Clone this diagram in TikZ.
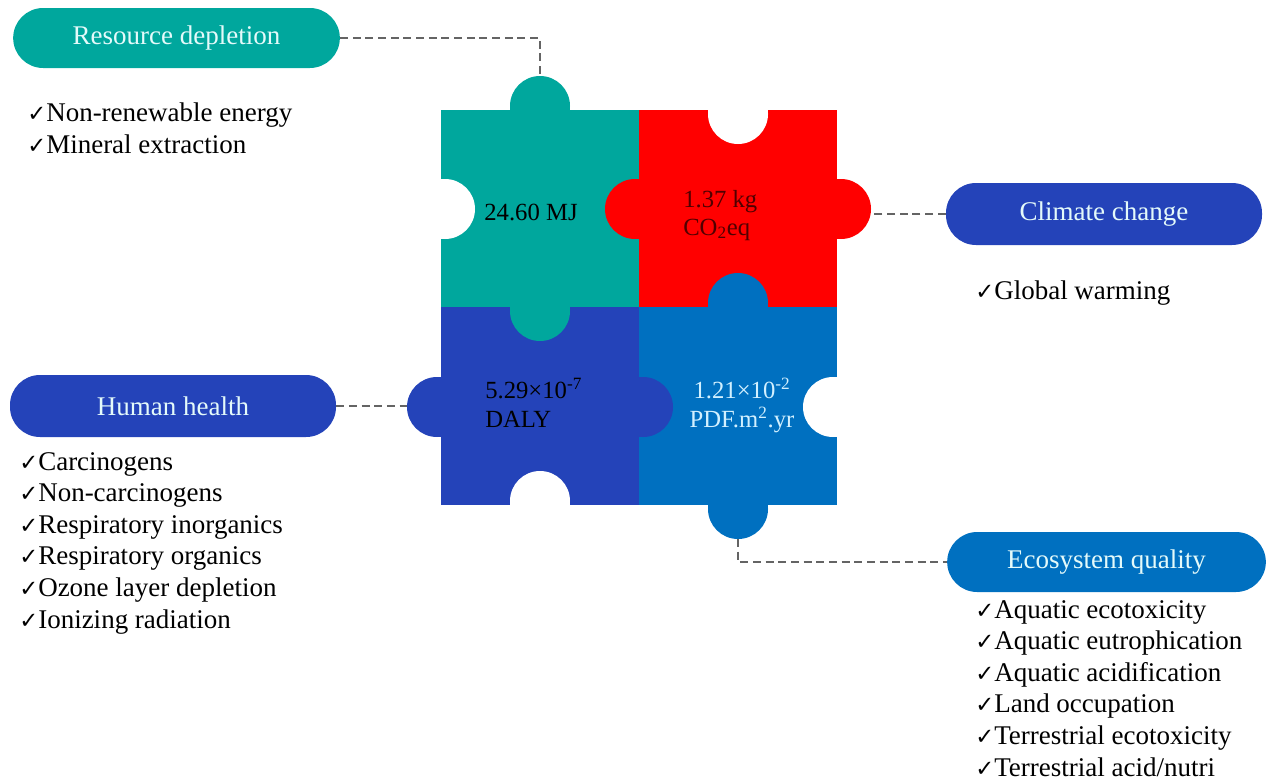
\documentclass[tikz,border=0pt]{standalone}
\usepackage{fontspec}
\setmainfont{Liberation Serif}
\newfontfamily\symf{DejaVu Sans}
\definecolor{cteal}{RGB}{0,167,157}
\definecolor{cred}{RGB}{255,0,0}
\definecolor{cdblue}{RGB}{36,67,185}
\definecolor{clblue}{RGB}{0,112,192}
\definecolor{cpilltext}{RGB}{228,250,250}
\definecolor{clbtext}{RGB}{210,240,255}
\definecolor{credtext}{RGB}{80,0,0}
\definecolor{cdash}{RGB}{100,100,100}
\newcommand\ck{{\symf\fontsize{17}{17}\selectfont ✓}}
\newcommand\tabup[3]{\fill[#3] (#1-30,#2) rectangle (#1+30,#2-4); \fill[#3] (#1,#2-4) circle (30);}
\newcommand\tabdown[3]{\fill[#3] (#1-30,#2) rectangle (#1+30,#2+4); \fill[#3] (#1,#2+4) circle (30);}
\newcommand\tableft[3]{\fill[#3] (#1,#2-30) rectangle (#1-4,#2+30); \fill[#3] (#1-4,#2) circle (30);}
\newcommand\tabright[3]{\fill[#3] (#1,#2-30) rectangle (#1+4,#2+30); \fill[#3] (#1+4,#2) circle (30);}
\tikzset{
  pill/.style={rounded corners=22.5pt, minimum height=45pt, inner sep=0pt, text=cpilltext,
     font=\fontsize{20.25}{24}\selectfont},
  item/.style={anchor=base west, inner sep=0pt, font=\fontsize{20.25}{24}\selectfont},
  val/.style={inner sep=0pt, font=\fontsize{18.5}{22}\selectfont},
  conn/.style={draw=cdash, line width=1.8pt, dash pattern=on 6pt off 3.5pt},
}
\begin{document}
\begin{tikzpicture}[x=0.75pt,y=-0.75pt]
\useasboundingbox (0,0) rectangle (1269,782);
% squares
\fill[cteal] (441,110) rectangle (639,307);
\fill[cred] (639,110) rectangle (837,307);
\fill[cdblue] (441,307) rectangle (639,505);
\fill[clblue] (639,307) rectangle (837,505);
% slots (white)
\tabright{441}{209}{white}
\tabdown{738}{110}{white}
\tabup{540}{505}{white}
\tableft{837}{407}{white}
% tabs
\tabup{540}{110}{cteal}
\tabdown{540}{307}{cteal}
\tableft{639}{209}{cred}
\tabright{837}{209}{cred}
\tabup{738}{307}{clblue}
\tabdown{738}{505}{clblue}
\tableft{441}{407}{cdblue}
\tabright{639}{407}{cdblue}
% tab tips
\coordinate (tabT) at (540,76);
\coordinate (tabR) at (871,209);
\coordinate (tabL) at (407,407);
\coordinate (tabB) at (738,539);
% values
\node[val, anchor=base] (v1) at (531,220) {24.60 MJ};
\node[val, anchor=base west, text=credtext] (v2a) at (683,207) {1.37 kg};
\node[val, anchor=base west, text=credtext] (v2b) at (683,235) {CO\textsubscript{2}eq};
\node[val, anchor=base west] (v3a) at (485,398) {5.29×10\textsuperscript{-7}};
\node[val, anchor=base west] (v3b) at (485,427) {DALY};
\node[val, anchor=base, text=clbtext] (v4a) at (742,398) {1.21×10\textsuperscript{-2}};
\node[val, anchor=base, text=clbtext] (v4b) at (742,427) {PDF.m\textsuperscript{2}.yr};
% pills
\node[pill, fill=cteal, minimum width=245pt] (res) at (176.5,38) {Resource depletion};
\node[pill, fill=cdblue, minimum width=237pt, minimum height=46.5pt] (clim) at (1104,214) {Climate change};
\node[pill, fill=cdblue, minimum width=244.5pt, minimum height=46.5pt] (hum) at (173,406) {Human health};
\node[pill, fill=clblue, minimum width=239pt] (eco) at (1106.5,562) {Ecosystem quality};
% connectors
\draw[conn] (res.east) -| (tabT);
\draw[conn] (clim.west) -- (clim.west -| tabR);
\draw[conn] (hum.east) -- (hum.east -| tabL);
\draw[conn] (tabB) |- (eco.west);
% lists
\node[item] (r1) at (27,121) {\ck Non-renewable energy};
\node[item] (r2) at (27,153) {\ck Mineral extraction};
\node[item] (c1) at (975,299) {\ck Global warming};
\foreach \t [count=\i] in {Carcinogens, Non-carcinogens, Respiratory inorganics, Respiratory organics, Ozone layer depletion, Ionizing radiation}
  \node[item] (h\i) at (19,{470+31.6*(\i-1)}) {\ck \t};
\foreach \t [count=\i] in {Aquatic ecotoxicity, Aquatic eutrophication, Aquatic acidification, Land occupation, Terrestrial ecotoxicity, Terrestrial acid/nutri}
  \node[item] (e\i) at (975,{618+31.6*(\i-1)}) {\ck \t};
\end{tikzpicture}
\end{document}
